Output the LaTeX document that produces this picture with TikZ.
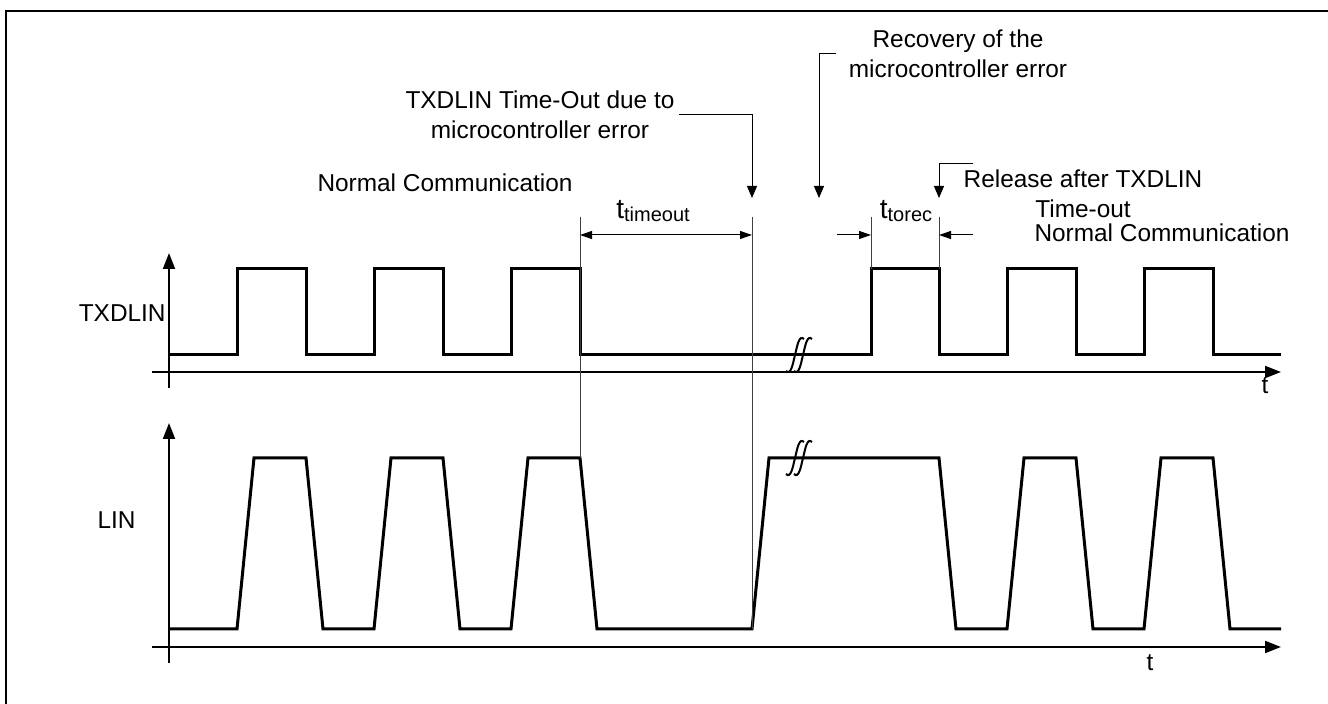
\documentclass[tikz,border=0pt]{standalone}
\usepackage{fontspec}
\setmainfont{Liberation Sans}
\usetikzlibrary{arrows.meta}

\newcommand{\tsub}[1]{{\fontsize{14}{15}\selectfont t}\raisebox{-0.3ex}{\fontsize{10}{12}\selectfont #1}}

\begin{document}
\begin{tikzpicture}[x=0.5pt, y=-0.5pt,
      every node/.style={font=\fontsize{12.2}{15}\selectfont},
      lbl/.style={align=center, inner sep=2pt},
      axis/.style={line width=1pt, -{Triangle[length=8pt, width=6pt]}},
      sig/.style={line width=1.5pt, line join=miter},
      thinline/.style={line width=0.5pt, draw=black!75},
      dim/.style={line width=0.5pt, -{Triangle[length=6pt, width=4pt]}},
      leader/.style={line width=0.5pt, -{Triangle[length=6pt, width=5pt]}},
      brk/.style={line width=1pt}]
    \useasboundingbox (0,0) rectangle (1328,704);
    \draw[line width=0.75pt] (6,704) -- (6,11) -- (1328,11);

    % axes
    \draw[axis] (152,372) -- (1281,372);
    \draw[axis] (169,388) -- (169,253);
    \draw[axis] (152,647) -- (1281,647);
    \draw[axis] (169,663) -- (169,423);

    % signals
    \draw[sig] (169,355) \foreach \a/\b in {237/306,374/443,511/580,871/939,1007/1076,1144/1213} {
        -- (\a,355) -- (\a,269) -- (\b,269) -- (\b,355)} -- (1281,355);
    \draw[sig] (169,629) \foreach \a/\b in {237/306,374/443,511/580} {
        -- (\a,629) -- (\a+17,458) -- (\b,458) -- (\b+17,629)}
      -- (752,629) -- (769,458) -- (939,458) -- (956,629)
      \foreach \a/\b in {1007/1076,1144/1213} {
        -- (\a,629) -- (\a+17,458) -- (\b,458) -- (\b+17,629)} -- (1281,629);

    % break marks
    \foreach \cx/\cy in {795/355, 803/355, 795/458, 803/458}
      \draw[brk] (\cx-9,\cy+16) .. controls (\cx-4,\cy+21) and (\cx-2,\cy+8) .. (\cx,\cy)
        .. controls (\cx+2,\cy-8) and (\cx+4,\cy-21) .. (\cx+9,\cy-16);

    % marker lines
    \coordinate (m1) at (580,217);
    \coordinate (m2) at (752,217);
    \coordinate (m3) at (871,217);
    \coordinate (m4) at (939,217);
    \draw[thinline] (m1) -- (580,458);
    \draw[thinline] (m2) -- (752,629);
    \draw[thinline] (m3) -- (871,269);
    \draw[thinline] (m4) -- (939,269);

    % time spans
    \coordinate (d1) at (580,235);
    \coordinate (d2) at (752,235);
    \coordinate (d3) at (871,235);
    \coordinate (d4) at (939,235);
    \coordinate (e3) at (837,235);
    \coordinate (e4) at (973,235);
    \draw[dim, {Triangle[length=6pt, width=4pt]}-{Triangle[length=6pt, width=4pt]}] (d1) -- (d2);
    \draw[dim] (e3) -- (d3);
    \draw[dim] (e4) -- (d4);
    \node (ttime) at (653,211) {\tsub{timeout}};
    \node (ttorec) at (906,211) {\tsub{torec}};

    % labels
    \node[anchor=east, inner sep=1pt] (txd) at (168,313) {TXDLIN};
    \node[anchor=east, inner sep=1pt] (lin) at (138,520) {LIN};
    \node (t1) at (1265,386) {t};
    \node (t2) at (1150,663) {t};
    \node[lbl] (normL) at (445,183) {Normal Communication};
    \node[lbl] (normR) at (1162,233) {Normal Communication};
    \node[lbl] (tolab) at (540,115) {TXDLIN Time-Out due to\\microcontroller error};
    \node[lbl] (rec) at (958,54) {Recovery of the\\microcontroller error};
    \node[lbl] (rel) at (1083,194) {Release after TXDLIN\\Time-out};

    % callouts
    \coordinate (k1) at (752,198);
    \coordinate (k2) at (819,198);
    \coordinate (k3) at (939,198);
    \draw[leader] (tolab.east) -| (k1);
    \draw[leader] ([xshift=-4pt]rec.west) -| (k2);
    \draw[leader] ([xshift=7pt, yshift=1pt]rel.north west) -| (k3);
  \end{tikzpicture}
\end{document}
